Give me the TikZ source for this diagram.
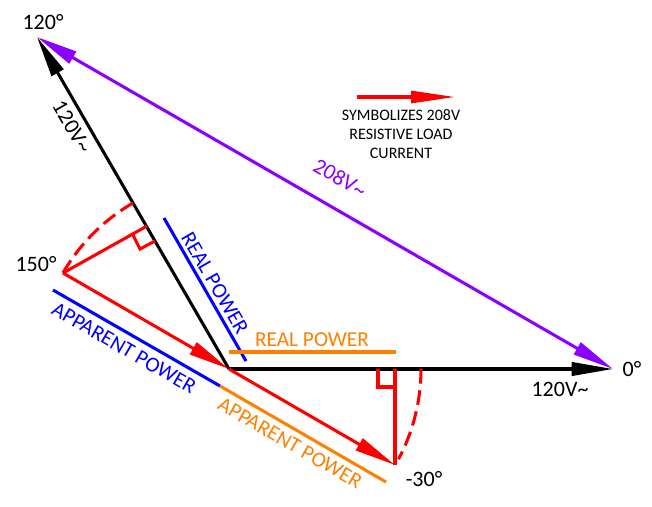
\documentclass[tikz,border=0pt]{standalone}
\usepackage{fontspec}
\setmainfont{Carlito}
\usetikzlibrary{arrows.meta}
\definecolor{phasepurple}{RGB}{139,0,255}
\definecolor{powerorange}{RGB}{255,128,0}

\begin{document}
\begin{tikzpicture}[x=0.75pt,y=-0.75pt,line width=2.3pt,
  bighead/.style={-{Triangle[length=31pt,width=10pt]}},
  twoheads/.style={{Triangle[length=31pt,width=10pt]}-{Triangle[length=31pt,width=10pt]}},
  anglelabel/.style={font=\fontsize{16.5}{18}\selectfont,inner sep=0pt},
  powerlabel/.style={font=\fontsize{16}{18}\selectfont,inner sep=0pt}]
\useasboundingbox (0,0) rectangle (652,506);

\coordinate (origin) at (229,369);
\coordinate (tipA) at (37,37);
\coordinate (tipB) at (613,369);
\coordinate (tipC) at (63,273);
\coordinate (tipD) at (395,465);
\coordinate (footC) at (147,226);
\coordinate (footD) at (395,369);

% black phases and the line to line voltage
\draw[bighead, black] (origin) -- (tipA);
\draw[bighead, black] (origin) -- (tipB);
\draw[twoheads, phasepurple] (tipA) -- (tipB);

% red current vectors
\draw[bighead, red] (tipC) -- (origin);
\draw[bighead, red] (origin) -- (tipD);
\draw[red] (tipC) -- (footC);
\draw[red] (footC) ++(-15,7) coordinate (boxCa) -- ++(8,16) coordinate (boxCb) -- ++(15,-8) coordinate (boxCc);
\draw[red] (footD) -- (tipD);
\draw[red] (378,369) coordinate (boxDa) -- (378,387) coordinate (boxDb) -- (395,387) coordinate (boxDc);
\draw[red, dash pattern=on 11pt off 5pt] (133,203) arc (-120:-150:192);
\draw[red, dash pattern=on 11pt off 5pt] (421,369) arc (0:28:192);

% power bars
\coordinate (realBlueA) at (164,218);
\coordinate (realBlueB) at (246,361);
\coordinate (appBlueA) at (53,290);
\coordinate (appBlueB) at (220,386);
\coordinate (appOrangeB) at (386,482);
\coordinate (realOrangeA) at (229,352);
\coordinate (realOrangeB) at (396,352);
\draw[blue] (realBlueA) -- (realBlueB);
\draw[blue] (appBlueA) -- (appBlueB);
\draw[powerorange] (appBlueB) -- (appOrangeB);
\draw[powerorange] (realOrangeA) -- (realOrangeB);

% legend
\coordinate (legendA) at (357,97);
\coordinate (legendB) at (455,97);
\draw[red, -{Triangle[length=33pt,width=9pt]}] (legendA) -- (legendB);
\node[align=center, inner sep=0pt, font=\fontsize{12}{14.2}\selectfont] (legend) at (401,134) {SYMBOLIZES 208V\\RESISTIVE LOAD\\CURRENT};

% labels
\node[anglelabel] (labelA) at (43,22) {120°};
\node[anglelabel] (labelB) at (632,369) {0°};
\node[anglelabel] (labelC) at (36,264) {150°};
\node[anglelabel] (labelD) at (424,479) {-30°};
\node[anglelabel, rotate=-60] (voltA) at (72,127) {120V\textasciitilde};
\node[anglelabel] (voltB) at (560,389) {120V\textasciitilde};
\node[anglelabel, phasepurple, rotate=-30] (voltAB) at (340,178) {208V\textasciitilde};
\node[powerlabel, blue, rotate=-60] (realBlue) at (215,283) {REAL POWER};
\node[powerlabel, blue, rotate=-30] (appBlue) at (124,348) {APPARENT POWER};
\node[powerlabel, powerorange] (realOrange) at (312,340) {REAL POWER};
\node[powerlabel, powerorange, rotate=-30] (appOrange) at (290,443) {APPARENT POWER};
\end{tikzpicture}
\end{document}
